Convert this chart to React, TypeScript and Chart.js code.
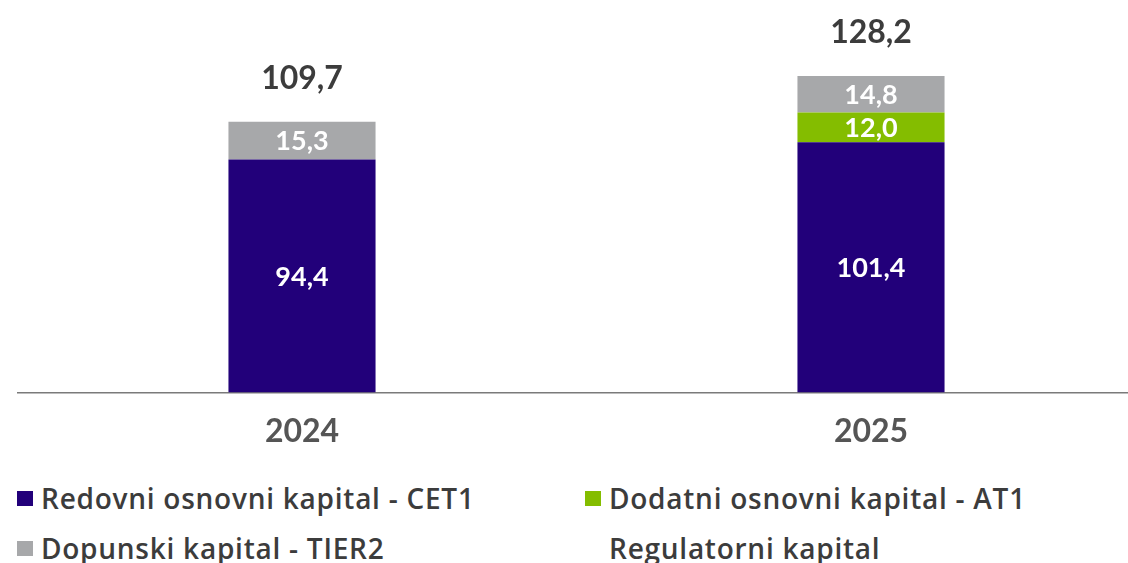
import React, { useEffect, useRef } from "react";
import { Chart, registerables } from "chart.js";

Chart.register(...registerables);

const categories = ["2024", "2025"];
const cet1 = [94.4, 101.4];
const at1: (number | null)[] = [null, 12.0];
const tier2 = [15.3, 14.8];
const totals = [109.7, 128.2];
const seriesNames = [
  "Redovni osnovni kapital - CET1",
  "Dodatni osnovni kapital - AT1",
  "Dopunski kapital - TIER2",
  "Regulatorni kapital",
];
const colors = ["#22007A", "#84BD00", "#A7A8AA"];

const FONT = "Lato, 'Open Sans', sans-serif";
const LEGEND_FONT = "'Open Sans', Lato, sans-serif";

const fmt = (v: number) => v.toFixed(1).replace(".", ",");

const labelPlugin = {
  id: "valueLabels",
  afterDatasetsDraw(chart: any) {
    const ctx = chart.ctx;
    ctx.save();
    ctx.textAlign = "center";
    ctx.textBaseline = "middle";
    chart.data.datasets.forEach((ds: any, di: number) => {
      const meta = chart.getDatasetMeta(di);
      meta.data.forEach((bar: any, i: number) => {
        const v = ds.data[i];
        if (v == null) return;
        const top = bar.y;
        const bottom = bar.base;
        ctx.fillStyle = "#FFFFFF";
        ctx.font = `bold 27px ${FONT}`;
        ctx.fillText(fmt(v), bar.x, (top + bottom) / 2 + 1);
      });
    });
    const yScale = chart.scales.y;
    const meta0 = chart.getDatasetMeta(0);
    totals.forEach((t, i) => {
      const x = meta0.data[i].x;
      const y = yScale.getPixelForValue(t);
      ctx.fillStyle = "#3C3C3C";
      ctx.font = `bold 32px ${FONT}`;
      ctx.fillText(fmt(t), x, y - 43);
    });
    ctx.restore();
  },
};

export default function App() {
  const ref = useRef<HTMLCanvasElement>(null);
  useEffect(() => {
    document.body.style.margin = "0";
    document.body.style.overflow = "hidden";
    const chart = new Chart(ref.current!, {
      type: "bar",
      data: {
        labels: categories,
        datasets: [
          { label: seriesNames[0], data: cet1, backgroundColor: colors[0] },
          { label: seriesNames[1], data: at1, backgroundColor: colors[1] },
          { label: seriesNames[2], data: tier2, backgroundColor: colors[2] },
        ],
      },
      options: {
        responsive: false,
        animation: false,
        layout: { padding: { left: 17.5, right: 4.5, top: 0, bottom: 0 } },
        datasets: {
          bar: { categoryPercentage: 1, barPercentage: 0.2585 },
        },
        plugins: { legend: { display: false }, tooltip: { enabled: false } },
        scales: {
          x: {
            stacked: true,
            grid: { display: false, drawTicks: false },
            border: { display: true, color: "#7A7A7A", width: 1.5 },
            ticks: {
              color: "#555555",
              font: { family: FONT, size: 32, weight: "bold" },
              padding: 20,
            },
          },
          y: {
            stacked: true,
            display: false,
            min: 0,
            max: 159,
          },
        },
      },
      plugins: [labelPlugin],
    });
    return () => chart.destroy();
  }, []);

  const legendItem = (label: string, color: string | null, left: number, top: number) => (
    <div
      style={{
        position: "absolute",
        left,
        top,
        display: "flex",
        alignItems: "center",
        fontFamily: LEGEND_FONT,
        fontWeight: 600,
        fontSize: 28,
        letterSpacing: "0.75px",
        color: "#3C3C3C",
        whiteSpace: "nowrap",
        lineHeight: "30px",
      }}
    >
      <span
        style={{
          display: "inline-block",
          width: 16,
          height: 15,
          background: color ?? "transparent",
          marginRight: 8,
        }}
      />
      {label}
    </div>
  );

  return (
    <div style={{ position: "relative", width: 1128, height: 563, overflow: "hidden", background: "#fff" }}>
      <canvas ref={ref} width={1160} height={471} style={{ display: "block" }} />
      {legendItem(seriesNames[0], colors[0], 17, 483)}
      {legendItem(seriesNames[1], colors[1], 585, 483)}
      {legendItem(seriesNames[2], colors[2], 17, 533)}
      {legendItem(seriesNames[3], null, 585, 533)}
    </div>
  );
}
